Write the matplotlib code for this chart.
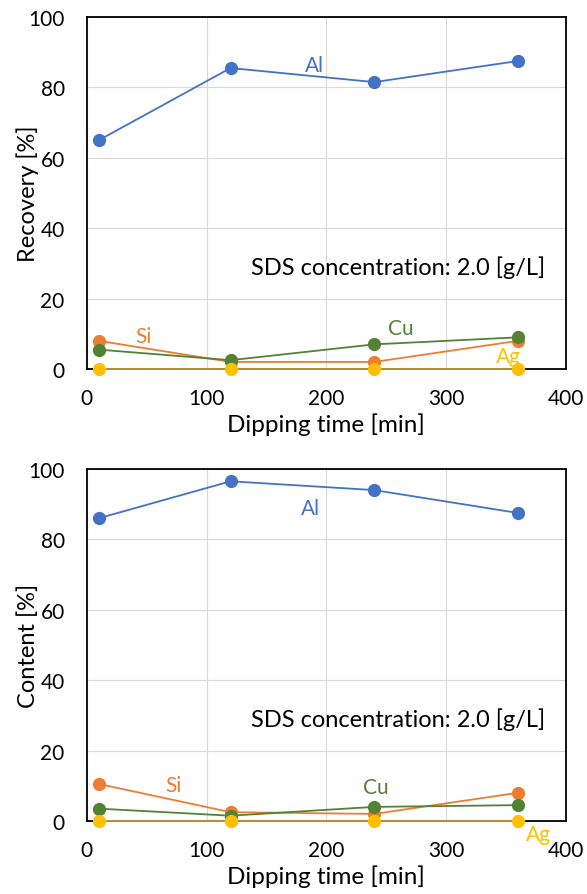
import matplotlib
matplotlib.use("Agg")
import matplotlib.pyplot as plt

plt.rcParams["font.family"] = ["Lato", "DejaVu Sans"]

times = [10, 120, 240, 360]

# recovery [%]
rec_al = [65, 85.5, 81.5, 87.5]
rec_si = [8, 2, 2, 8]
rec_cu = [5.5, 2.5, 7, 9]
rec_ag = [0, 0, 0, 0]

# content [%]
con_al = [86, 96.5, 94, 87.5]
con_si = [10.5, 2.5, 2, 8]
con_cu = [3.5, 1.5, 4, 4.5]
con_ag = [0, 0, 0, 0]

colors = {"Al": "#4472C4", "Si": "#ED7D31", "Cu": "#548235", "Ag": "#FFC000"}
# the Ag line sits on the black x axis, so it reads darker than its markers
line_colors = dict(colors, Ag="#C49C3A")


def draw_panel(ax, series, ylabel, labelpos):
    for name, vals in series:
        ax.plot(times, vals, color=line_colors[name], linewidth=1.3,
                clip_on=False, zorder=3)
        ax.plot(times, vals, linestyle="none", marker="o", markersize=8.5,
                color=colors[name], clip_on=False, zorder=4)
        lx, ly = labelpos[name]
        ax.text(lx, ly, name, color=colors[name], fontsize=15,
                ha="center", va="center", zorder=5)
    ax.set_xlim(0, 400)
    ax.set_ylim(0, 100)
    ax.set_xticks([0, 100, 200, 300, 400])
    ax.set_yticks([0, 20, 40, 60, 80, 100])
    ax.grid(True, color="#d9d9d9", linewidth=0.8)
    ax.set_axisbelow(True)
    ax.tick_params(length=0, labelsize=15)
    ax.tick_params(axis="x", pad=14)
    ax.tick_params(axis="y", pad=16)
    for sp in ax.spines.values():
        sp.set_color("black")
        sp.set_linewidth(1.3)
    ax.set_xlabel("Dipping time [min]", fontsize=17.5, labelpad=3)
    ax.set_ylabel(ylabel, fontsize=17, labelpad=-7.5)
    ax.text(260, 29, "SDS concentration: 2.0 [g/L]", fontsize=17,
            ha="center", va="center")


fig = plt.figure(figsize=(5.87, 8.95), dpi=100)
ax1 = fig.add_axes([0.148, 0.5866, 0.816, 0.3933])
ax2 = fig.add_axes([0.148, 0.0816, 0.816, 0.3933])

draw_panel(ax1,
           [("Al", rec_al), ("Si", rec_si), ("Cu", rec_cu), ("Ag", rec_ag)],
           "Recovery [%]",
           {"Al": (190, 86.5), "Si": (47, 9.3), "Cu": (262, 11.6), "Ag": (352, 3.7)})
draw_panel(ax2,
           [("Al", con_al), ("Si", con_si), ("Cu", con_cu), ("Ag", con_ag)],
           "Content [%]",
           {"Al": (187, 89), "Si": (72, 10.2), "Cu": (241, 9.6), "Ag": (377, -3.7)})

fig.savefig("out.png", dpi=100)
